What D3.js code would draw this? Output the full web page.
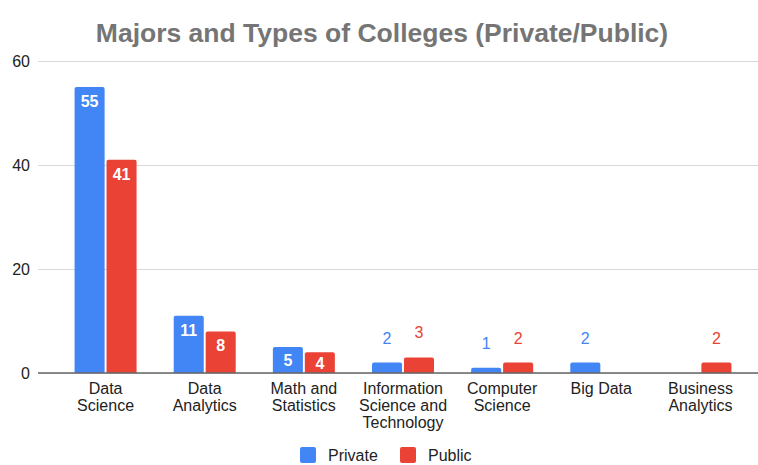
<!DOCTYPE html>
<html>
<head>
<meta charset="utf-8">
<script src="https://cdn.jsdelivr.net/npm/d3@7"></script>
<style>
  html, body { margin: 0; padding: 0; background: #fff; }
  svg { display: block; font-family: "Liberation Sans", Arial, sans-serif; }
</style>
</head>
<body>
<svg id="chart" width="758" height="465"></svg>
<script>
// Number of colleges offering each major, split by college type
const majors = [
  ["Data", "Science"],
  ["Data", "Analytics"],
  ["Math and", "Statistics"],
  ["Information", "Science and", "Technology"],
  ["Computer", "Science"],
  ["Big Data"],
  ["Business", "Analytics"]
];
const privateCounts = [55, 11, 5, 2, 1, 2, null];
const publicCounts  = [41, 8, 4, 3, 2, null, 2];
const seriesNames = ["Private", "Public"];
const seriesColors = ["#4285F4", "#EA4335"];
const yTicks = [0, 20, 40, 60];
const chartTitle = "Majors and Types of Colleges (Private/Public)";

const svg = d3.select("#chart");
const W = 758;

const x = d3.scaleBand().domain(d3.range(majors.length)).range([56, 750]).paddingInner(0).paddingOuter(0);
const inner = d3.scaleBand().domain([0, 1]).range([0, 62]).paddingInner(0.06);
const y = d3.scaleLinear().domain([0, 60]).range([373, 61]);

// title
svg.append("text")
  .attr("x", 382).attr("y", 42)
  .attr("text-anchor", "middle")
  .attr("font-size", 26.5).attr("font-weight", "bold")
  .attr("fill", "#757575")
  .text(chartTitle);

// gridlines + y labels
const yAxis = d3.axisLeft(y).tickValues(yTicks).tickSize(-(W - 38)).tickPadding(8);
const gy = svg.append("g").attr("transform", "translate(38,0)").call(yAxis);
gy.select(".domain").remove();
gy.selectAll(".tick line").attr("stroke", "#d9d9d9").attr("stroke-width", 1);
gy.selectAll(".tick text").attr("font-size", 16).attr("fill", "#222")
  .attr("font-family", "Liberation Sans, Arial, sans-serif");

// bars
const rows = [];
majors.forEach((m, i) => {
  [privateCounts[i], publicCounts[i]].forEach((v, s) => {
    if (v != null) rows.push({ i, s, v });
  });
});

const bx = d => x(d.i) + (x.bandwidth() - 62) / 2 + inner(d.s);
const inside = d => y(0) - y(d.v) > 18;

svg.append("g").selectAll("path")
  .data(rows).join("path")
  .attr("fill", d => seriesColors[d.s])
  .attr("d", d => {
    const x0 = bx(d), w = inner.bandwidth(), y0 = y(d.v), y1 = y(0), r = 2;
    return `M${x0},${y1}V${y0 + r}Q${x0},${y0} ${x0 + r},${y0}H${x0 + w - r}Q${x0 + w},${y0} ${x0 + w},${y0 + r}V${y1}Z`;
  });

// value labels
svg.append("g").selectAll("text")
  .data(rows).join("text")
  .attr("x", d => bx(d) + inner.bandwidth() / 2)
  .attr("y", d => {
    const top = y(d.v), h = y(0) - top;
    if (inside(d)) return Math.min(top + 20, top + h / 2 + 6);
    return top - 19;
  })
  .attr("text-anchor", "middle")
  .attr("font-size", 16)
  .attr("font-weight", d => inside(d) ? "bold" : "normal")
  .attr("fill", d => inside(d) ? "#fff" : seriesColors[d.s])
  .text(d => d.v);

// baseline
svg.append("line")
  .attr("x1", 38).attr("x2", W)
  .attr("y1", y(0)).attr("y2", y(0))
  .attr("stroke", "#666").attr("stroke-width", 1.3);

// category labels
const cats = svg.append("g").selectAll("text")
  .data(majors).join("text")
  .attr("x", (d, i) => x(i) + x.bandwidth() / 2)
  .attr("y", 394)
  .attr("text-anchor", "middle")
  .attr("font-size", 16)
  .attr("fill", "#222");
cats.each(function(lines) {
  d3.select(this).selectAll("tspan").data(lines).join("tspan")
    .attr("x", d3.select(this).attr("x"))
    .attr("dy", (d, k) => k === 0 ? 0 : 17)
    .text(d => d);
});

// legend
const legend = svg.append("g");
const legendX = [300, 400];
seriesNames.forEach((name, s) => {
  legend.append("rect")
    .attr("x", legendX[s]).attr("y", 447)
    .attr("width", 16).attr("height", 16)
    .attr("rx", 2)
    .attr("fill", seriesColors[s]);
  legend.append("text")
    .attr("x", legendX[s] + 28).attr("y", 461)
    .attr("font-size", 16).attr("fill", "#222")
    .text(name);
});
</script>
</body>
</html>
